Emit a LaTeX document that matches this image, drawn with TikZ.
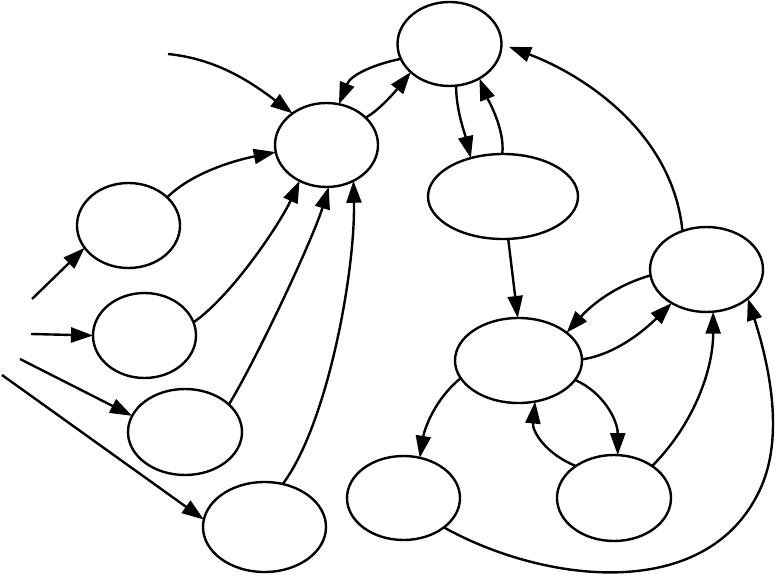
\documentclass[tikz,border=0pt]{standalone}
\usetikzlibrary{shapes.geometric,arrows.meta}
\begin{document}
\begin{tikzpicture}[x=1pt,y=-1pt,
  st/.style={ellipse,draw,line width=2.4pt,inner sep=0pt,outer sep=0pt},
  arr/.style={line width=2.4pt,-{Triangle[length=22pt,width=15pt]}}]
\useasboundingbox (0,0) rectangle (776,583);
\node[st,minimum width=104pt,minimum height=84pt] (T) at (449.5,44) {};
\node[st,minimum width=103pt,minimum height=84pt] (A) at (326.5,145) {};
\node[st,minimum width=103pt,minimum height=85pt] (B) at (128.5,225.5) {};
\node[st,minimum width=103pt,minimum height=85pt] (C) at (144.5,335.5) {};
\node[st,minimum width=114pt,minimum height=86pt] (D) at (185,432) {};
\node[st,minimum width=123pt,minimum height=90pt] (E) at (264.5,527) {};
\node[st,minimum width=150pt,minimum height=85pt] (F) at (503,196.5) {};
\node[st,minimum width=113pt,minimum height=85pt] (G) at (706.5,269.5) {};
\node[st,minimum width=127pt,minimum height=85pt] (H) at (518.5,360.5) {};
\node[st,minimum width=113pt,minimum height=84pt] (I) at (403.5,498) {};
\node[st,minimum width=114pt,minimum height=86pt] (J) at (614,498) {};
\coordinate (in1) at (168,54);
\coordinate (in2) at (32,299);
\coordinate (in3) at (31,334);
\coordinate (in4) at (20,359);
\coordinate (in5) at (2,375);
\coordinate (igm) at (762,485);
% entries
\draw[arr] (in1) .. controls +(50,5) and +(-40,-30) .. (A.137);
\draw[arr] (in2) -- (B.207);
\draw[arr] (in3) -- (C.180);
\draw[arr] (in4) -- (D.163);
\draw[arr] (in5) -- (E.173);
% top cluster
\draw[arr] (T.197) .. controls +(-25,5) and +(12,-30) .. (A.73);
\draw[arr] (A.35) .. controls +(15,-8) and +(-12,15) .. (T.216);
\draw[arr] (T.279) .. controls +(0,25) and +(-6,-25) .. (F.130);
\draw[arr] (F.91) .. controls +(3,-25) and +(8,20) .. (T.311);
\draw[arr,shorten >=8pt] (G.122) .. controls +(-10,-100) and +(80,30) .. (T.0);
% left to A
\draw[arr] (B.36) .. controls +(25,-25) and +(-40,8) .. (A.188);
\draw[arr] (C.15) .. controls +(40,-28) and +(-18,40) .. (A.233);
\draw[arr] (D.32) .. controls +(30,-50) and +(-15,50) .. (A.273);
\draw[arr] (E.67) .. controls +(45,-60) and +(2,90) .. (A.307);
% right cluster
\draw[arr] (F.277) -- (H.91);
\draw[arr] (G.186) .. controls +(-35,10) and +(25,-28) .. (H.30);
\draw[arr] (H.1) .. controls +(35,-5) and +(-25,25) .. (G.224);
\draw[arr] (H.197) .. controls +(-25,20) and +(5,-30) .. (I.68);
\draw[arr] (H.341) .. controls +(28,12) and +(0,-35) .. (J.85);
\draw[arr] (J.140) .. controls +(-30,-12) and +(-3,30) .. (H.292);
\draw[arr] (J.40) .. controls +(40,-40) and +(0,60) .. (G.279);
\draw[arr] (I.324) .. controls +(100,56) and +(-51,120) .. (igm) .. controls +(20,-48) and +(24,75) .. (G.325);
\end{tikzpicture}
\end{document}
